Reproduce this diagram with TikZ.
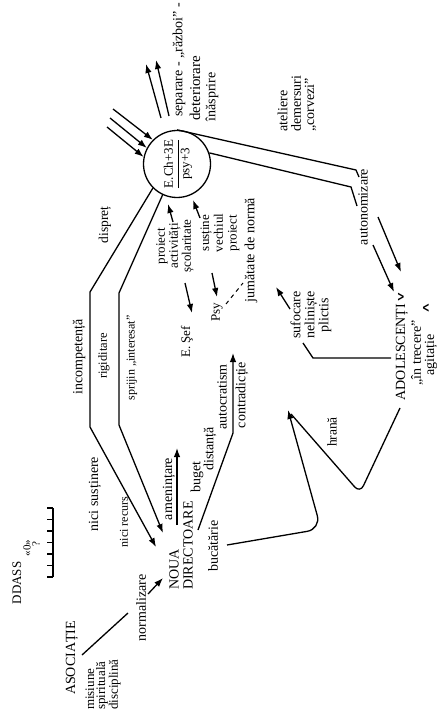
\documentclass[tikz,border=0pt]{standalone}
\usepackage{amsmath}
\usepackage{graphicx}
\usepackage{fontspec}
\setmainfont{Liberation Serif}
\newfontfamily\chevfont{DejaVu Sans}
\usetikzlibrary{arrows.meta}
\newcommand{\fsz}[2]{\fontsize{#1}{#2}\selectfont}
\begin{document}
\begin{tikzpicture}[x=1pt,y=-1pt,
  lbl/.style={rotate=90,inner sep=0pt,font=\fsz{14}{14}},
  big/.style={rotate=90,inner sep=0pt,font=\fsz{14}{14}},
  chev/.style={inner sep=0pt,font=\chevfont\bfseries\fsz{14}{14}},
  ln/.style={line width=1.3pt},
  arr/.style={line width=1.3pt,-{Latex[length=9pt,width=6.5pt]}},
]
\useasboundingbox[fill=white] (0,0) rectangle (442,719);

% ---------- central circle ----------
\node[draw,circle,line width=1.3pt,minimum size=67pt,inner sep=0pt] (circ) at (177,164) {};
\node[rotate=90,inner sep=0pt,font=\fsz{13}{14}] (frac) at (178,164) {$\dfrac{\text{E.Ch+3E}}{\text{psy+3}}$};

% incoming arrows
\coordinate (in1) at (113,109);
\coordinate (in2) at (110,118);
\coordinate (in3) at (107,127);
\draw[arr] (in1) -- (circ.135);
\draw[arr] (in2) -- (circ.152);
\draw[arr] (in3) -- (circ.168);

% outgoing arrows
\coordinate (up1s) at (161,118);
\coordinate (up1e) at (146,64);
\coordinate (up2s) at (169,116);
\coordinate (up2e) at (156,60);
\draw[arr] (up1s) -- (up1e);
\draw[arr] (up2s) -- (up2e);

\node[lbl,anchor=west] (sep) at (179,117) {separare - „război” -};
\node[lbl,anchor=west,font=\fsz{15}{15}] (det) at (195,121) {deteriorare};
\node[lbl] (inas) at (212,97) {înăsprire};

\node[lbl,align=left,anchor=west,font=\fsz{14}{13.3}] (atel) at (297,132) {ateliere\\demersuri\\„corvezi”};

% ---------- autonomizare ----------
\node[lbl] (auto) at (363,207) {autonomizare};
\coordinate (a1) at (356,170);
\coordinate (a1e) at (359,177);
\coordinate (a2) at (351,187);
\coordinate (a2e) at (357,206);
\draw[ln] (circ.90) -- (a1) -- (a1e);
\draw[ln] (circ.19) -- (a2) -- (a2e);

\coordinate (au1) at (373,245);
\coordinate (ad1) at (394,292);
\coordinate (au2) at (378,217);
\coordinate (ad2) at (401,272);
\draw[arr] (au1) -- (ad1);
\draw[arr] (au2) -- (ad2);

% ---------- adolescenti ----------
\node[big] (adol) at (402,352) {ADOLESCENȚI};
\node[lbl] (adol2) at (417,353) {„în trecere”};
\node[lbl] (adol3) at (431,355) {agitație};
\node[chev] (gt) at (401,297) {\scalebox{0.65}[1]{>}};
\node[chev] (lt) at (426,308) {\scalebox{0.65}[1]{<}};

\node[lbl,align=center] (sufo) at (311,315) {sufocare\\neliniște\\plictis};
\coordinate (s0) at (391,358);
\coordinate (s1) at (313,358);
\coordinate (s2) at (303,343);
\draw[ln] (s0) -- (s1) -- (s2);
\coordinate (sa0) at (290,309);
\coordinate (sa1) at (276,287);
\draw[arr] (sa0) -- (sa1);

\node[lbl,font=\fsz{13.5}{14}] (hrana) at (332,432) {hrană};
\coordinate (h0) at (400,408);
\coordinate (h1) at (360,493);
\coordinate (h2) at (291,414);
\coordinate (tip) at (288,410);
\draw[ln,rounded corners=8pt] (h0) -- (h1) -- (h2);

\node[lbl] (buc) at (213,546) {bucătărie};
\coordinate (b0) at (227,545);
\coordinate (b1) at (321,529);
\draw[arr,rounded corners=14pt] (b0) -- (b1) -- (tip);

% ---------- centre labels ----------
\node[lbl,align=center,font=\fsz{13}{13}] (proi) at (175,246) {proiect\\activități\\școlaritate};
\coordinate (p0) at (173,222);
\coordinate (p1) at (168,204);
\draw[arr] (p0) -- (p1);
\coordinate (e0) at (185,283);
\coordinate (e1) at (192,313);
\draw[arr] (e0) -- (e1);
\node[lbl,font=\fsz{13}{14}] (esef) at (187,342) {E. Şef};

\node[lbl,align=center,font=\fsz{13}{13.7}] (sust) at (220,233) {susține\\vechiul\\proiect};
\coordinate (v0) at (200,218);
\coordinate (v1) at (193,200);
\draw[arr] (v0) -- (v1);
\coordinate (q0) at (212,273);
\coordinate (q1) at (217,297);
\draw[arr] (q0) -- (q1);
\node[lbl,font=\fsz{13}{14}] (psy) at (217,312) {Psy};
\node[lbl] (jum) at (251,250) {jumătate de normă};
\coordinate (d0) at (226,304);
\coordinate (d1) at (243,283);
\draw[line width=1pt,dash pattern=on 4pt off 4pt] (d0) -- (d1);

% ---------- channels to NOUA DIRECTOARE ----------
\node[big,align=left,anchor=west] (nd) at (181,590) {NOUA\\DIRECTOARE};
\coordinate (o1) at (90,292);
\coordinate (o2) at (90,427);
\coordinate (ndo) at (156,547);
\draw[arr] (circ.225) -- (o1) -- (o2) -- (ndo);
\coordinate (i1) at (119,293);
\coordinate (i2) at (119,425);
\coordinate (ndi) at (163,533);
\draw[arr] (circ.245) -- (i1) -- (i2) -- (ndi);

\node[lbl,font=\fsz{13.5}{14}] (disp) at (105,225) {dispreț};
\node[lbl] (inc) at (79,357) {incompetență};
\node[lbl,font=\fsz{12.5}{14}] (rig) at (104,356) {rigiditare};
\node[lbl,font=\fsz{12}{14}] (spr) at (132,358) {sprijin „interesat”};
\node[lbl] (nsus) at (95,494) {nici susținere};
\node[lbl,font=\fsz{12}{14}] (nrec) at (124,522) {nici recurs};

% ---------- from NOUA DIRECTOARE ----------
\coordinate (m0) at (177,525);
\coordinate (m1) at (177,448);
\draw[arr] (m0) -- (m1);
\node[lbl] (amen) at (169,489) {amenințare};
\node[lbl] (bug) at (197,477) {buget};
\node[lbl] (dist) at (210,449) {distanță};
\node[lbl] (autoc) at (222,397) {autocratism};
\node[lbl] (contr) at (242,395) {contradicție};
\coordinate (c0) at (198,530);
\coordinate (c1) at (233,433);
\coordinate (c2) at (233,353);
\draw[arr] (c0) -- (c1) -- (c2);

% ---------- ASOCIATIE ----------
\node[big] (asoc) at (72,658) {ASOCIAȚIE};
\node[lbl,align=left,anchor=west,font=\fsz{13}{11}] (mis) at (103,710) {misiune\\spirituală\\disciplină};
\coordinate (n0) at (82,655);
\coordinate (n1) at (128,613);
\draw[ln] (n0) -- (n1);
\coordinate (n2) at (148,594);
\coordinate (n3) at (163,578);
\draw[arr] (n2) -- (n3);
\node[lbl] (norm) at (141,608) {normalizare};

% ---------- DDASS ----------
\node[big,font=\fsz{13}{14}] (ddass) at (17,583) {DDASS};
\node[rotate=90,inner sep=0pt,font=\fsz{11}{12}] (zero) at (27,548) {«0»};
\node[rotate=90,inner sep=0pt,font=\fsz{11}{12}] (qm) at (36,544) {?};
\coordinate (k0) at (53,508);
\coordinate (k1) at (53,577);
\draw[ln] (k0) -- (k1);
\foreach \k in {0,...,6} \draw[ln] (53,{508+11.5*\k}) -- (47,{508+11.5*\k});

\end{tikzpicture}
\end{document}
